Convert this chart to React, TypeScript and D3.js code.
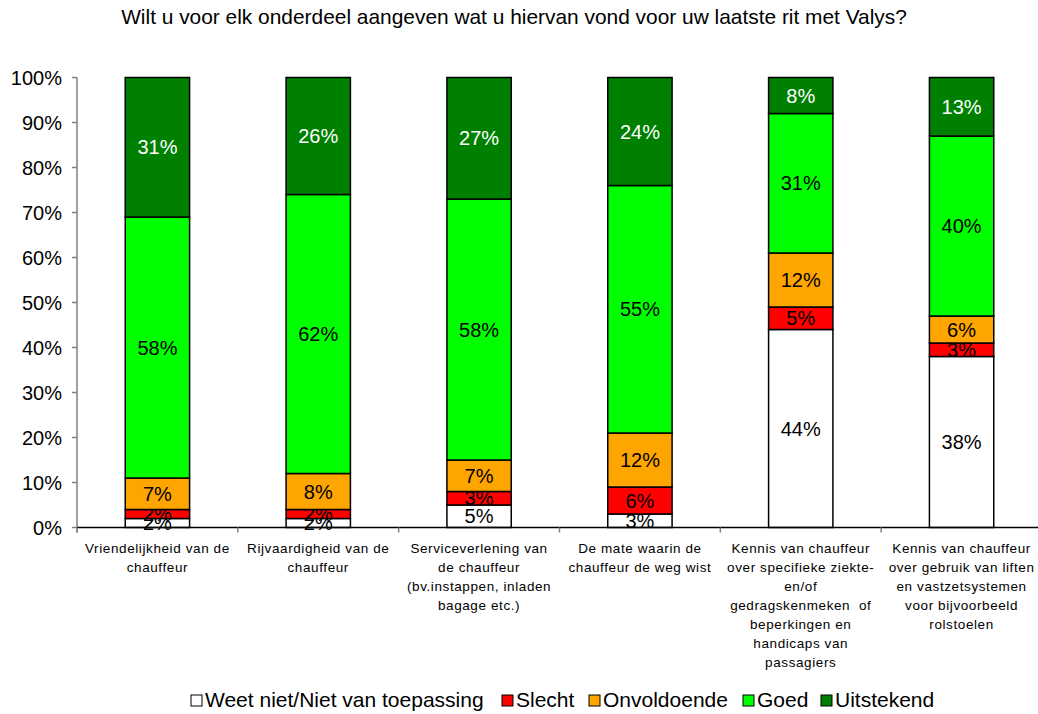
import React from "react";
import * as d3 from "d3";

const title = "Wilt u voor elk onderdeel aangeven wat u hiervan vond voor uw laatste rit met Valys?";
const categories = [
  ["Vriendelijkheid van de", "chauffeur"],
  ["Rijvaardigheid van de", "chauffeur"],
  ["Serviceverlening van", "de chauffeur", "(bv.instappen, inladen", "bagage etc.)"],
  ["De mate waarin de", "chauffeur de weg wist"],
  ["Kennis van chauffeur", "over specifieke ziekte-", "en/of", "gedragskenmeken  of", "beperkingen en", "handicaps van", "passagiers"],
  ["Kennis van chauffeur", "over gebruik van liften", "en vastzetsystemen", "voor bijvoorbeeld", "rolstoelen"],
];
const seriesNames = ["Weet niet/Niet van toepassing", "Slecht", "Onvoldoende", "Goed", "Uitstekend"];
const seriesColors = ["#FFFFFF", "#FF0000", "#FFA500", "#00FF00", "#008000"];
const labelColors = ["#000", "#000", "#000", "#000", "#FFF"];
const weetNiet = [2, 2, 5, 3, 44, 38];
const slecht = [2, 2, 3, 6, 5, 3];
const onvoldoende = [7, 8, 7, 12, 12, 6];
const goed = [58, 62, 58, 55, 31, 40];
const uitstekend = [31, 26, 27, 24, 8, 13];
const yTicks = [0, 10, 20, 30, 40, 50, 60, 70, 80, 90, 100];
const legendX = [191, 502, 589, 743, 821];

const FONT = "'Liberation Sans', Arial, sans-serif";

export default function App() {
  const W = 1038, H = 714;
  const x0 = 77, x1 = 1042, yTop = 77.5, yBot = 527.5;
  const idx = categories.map((_, i) => String(i));
  const x = d3.scaleBand().domain(idx).range([x0, x1]).paddingInner(0.6).paddingOuter(0.3);
  const y = d3.scaleLinear().domain([0, 100]).range([yBot, yTop]);
  const seriesData = [weetNiet, slecht, onvoldoende, goed, uitstekend];
  const table = idx.map((k, i) => {
    const row: any = { key: k };
    seriesNames.forEach((s, j) => (row[s] = seriesData[j][i]));
    return row;
  });
  const stacked = d3.stack().keys(seriesNames)(table as any);
  const step = x.step();
  const boundaries = d3.range(categories.length + 1).map((i) => x0 + i * step);

  return (
    <svg width={W} height={H} style={{ display: "block", position: "absolute", left: 0, top: 0 }} fontFamily={FONT}>
      <rect width={W} height={H} fill="#fff" />
      <text x={514} y={24} textAnchor="middle" fontSize={20.9}>{title}</text>
      {/* y axis */}
      <line x1={x0} x2={x0} y1={yTop} y2={yBot + 5} stroke="#808080" strokeWidth={1.5} />
      {yTicks.map((t) => (
        <g key={t}>
          <line x1={x0 - 5} x2={x0} y1={y(t)} y2={y(t)} stroke="#808080" strokeWidth={1.5} />
          <text x={62} y={y(t) + 7} textAnchor="end" fontSize={20}>{t}%</text>
        </g>
      ))}
      {/* bars */}
      {stacked.map((s, j) => (
        <g key={s.key}>
          {s.map((d, i) => {
            const v = d[1] - d[0];
            const bx = x(String(i))!;
            return (
              <g key={i}>
                <rect x={bx} y={y(d[1])} width={x.bandwidth()} height={y(d[0]) - y(d[1])}
                  fill={seriesColors[j]} stroke="#000" strokeWidth={1.5} />
                <text x={bx + x.bandwidth() / 2} y={(y(d[0]) + y(d[1])) / 2 + 7} textAnchor="middle"
                  fontSize={20} fill={labelColors[j]}>{v}%</text>
              </g>
            );
          })}
        </g>
      ))}
      {/* x axis */}
      <line x1={x0} x2={x1} y1={yBot} y2={yBot} stroke="#000" strokeWidth={1.5} />
      {boundaries.map((b, i) => (
        <line key={i} x1={b} x2={b} y1={yBot} y2={yBot + 5} stroke="#808080" strokeWidth={1.5} />
      ))}
      {categories.map((lines, i) => (
        <text key={i} textAnchor="middle" fontSize={13.5} letterSpacing={0.6}>
          {lines.map((l, k) => (
            <tspan key={k} x={x(String(i))! + x.bandwidth() / 2} y={553 + k * 19} style={{ whiteSpace: "pre" }}>{l}</tspan>
          ))}
        </text>
      ))}
      {/* legend */}
      {seriesNames.map((s, j) => (
        <g key={s}>
          <rect x={legendX[j]} y={695} width={11} height={11} fill={seriesColors[j]} stroke="#000" strokeWidth={1} />
          <text x={legendX[j] + 14} y={707} fontSize={21}>{s}</text>
        </g>
      ))}
    </svg>
  );
}
